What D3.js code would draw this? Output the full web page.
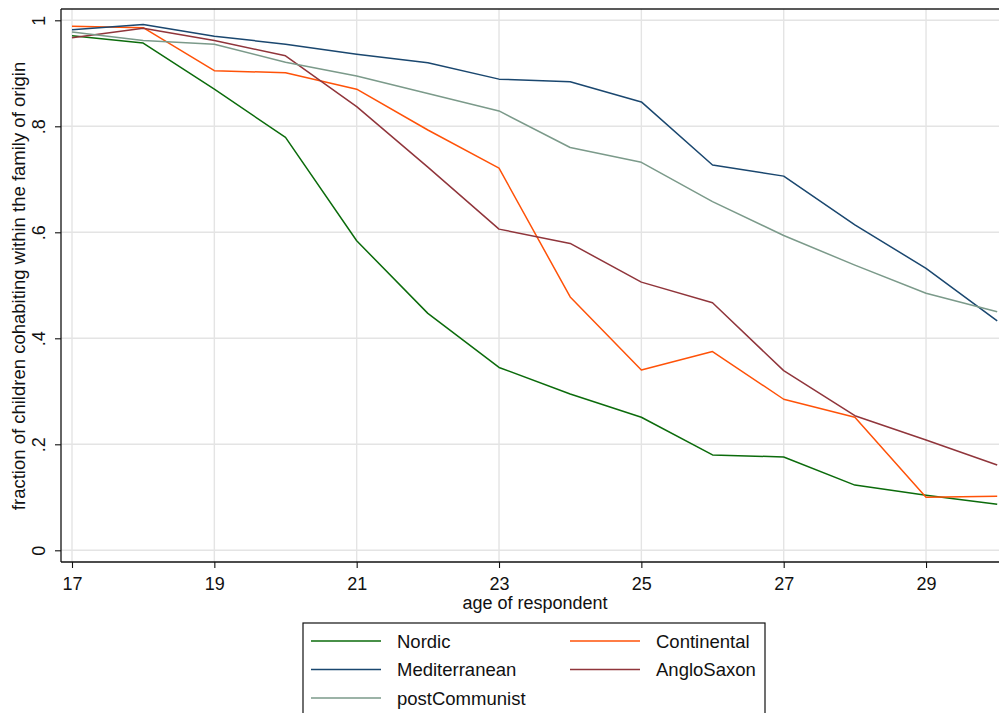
<!DOCTYPE html>
<html>
<head>
<meta charset="utf-8">
<script src="https://cdn.jsdelivr.net/npm/d3@7"></script>
<style>
  html, body { margin: 0; padding: 0; background: #fff; }
  svg { display: block; font-family: "Liberation Sans", Arial, sans-serif; }
</style>
</head>
<body>
<svg id="chart" width="999" height="713"></svg>
<script>
const ages = [17, 18, 19, 20, 21, 22, 23, 24, 25, 26, 27, 28, 29, 30];
const nordic        = [0.971, 0.957, 0.870, 0.779, 0.584, 0.447, 0.345, 0.295, 0.251, 0.180, 0.176, 0.123, 0.104, 0.087];
const continental   = [0.989, 0.986, 0.905, 0.901, 0.870, 0.793, 0.721, 0.478, 0.340, 0.375, 0.285, 0.251, 0.100, 0.102];
const mediterranean = [0.982, 0.992, 0.970, 0.955, 0.936, 0.920, 0.889, 0.884, 0.846, 0.727, 0.706, 0.614, 0.532, 0.433];
const angloSaxon    = [0.967, 0.985, 0.962, 0.933, 0.837, 0.723, 0.606, 0.579, 0.506, 0.467, 0.339, 0.254, 0.208, 0.161];
const postCommunist = [0.978, 0.962, 0.955, 0.921, 0.895, 0.862, 0.829, 0.760, 0.732, 0.658, 0.594, 0.538, 0.485, 0.450];

const xTicks = [17, 19, 21, 23, 25, 27, 29];
const yTicks = [0, 0.2, 0.4, 0.6, 0.8, 1];
const yTickLabels = ["0", ".2", ".4", ".6", ".8", "1"];

const seriesNames = ["Nordic", "Continental", "Mediterranean", "AngloSaxon", "postCommunist"];
const seriesValues = [nordic, continental, mediterranean, angloSaxon, postCommunist];
const seriesColors = ["#0b6b0b", "#ff5208", "#1a476f", "#90353b", "#7b9a8a"];

const svg = d3.select("#chart");

const plotLeft = 61, plotTop = 9, plotBottom = 562, plotRight = 1000;

const x = d3.scaleLinear().domain([17, 30]).range([72, 997.2]);
const y = d3.scaleLinear().domain([0, 1]).range([550.3, 20.3]);

// gridlines
const grid = svg.append("g");
grid.selectAll("line.h").data(yTicks).enter().append("line")
  .attr("x1", plotLeft).attr("x2", plotRight)
  .attr("y1", d => y(d)).attr("y2", d => y(d))
  .attr("stroke", "#e4e4e4").attr("stroke-width", 1.4);
grid.selectAll("line.v").data(xTicks).enter().append("line")
  .attr("y1", plotTop).attr("y2", plotBottom)
  .attr("x1", d => x(d)).attr("x2", d => x(d))
  .attr("stroke", "#e4e4e4").attr("stroke-width", 1.4);

// lines
const line = d3.line().x((d, i) => x(ages[i])).y(d => y(d));
seriesValues.forEach((vals, k) => {
  svg.append("path").datum(vals)
    .attr("d", line)
    .attr("fill", "none")
    .attr("stroke", seriesColors[k])
    .attr("stroke-width", 1.5)
    .attr("stroke-linejoin", "round");
});

// frame (top + left + bottom)
svg.append("line").attr("x1", plotLeft).attr("x2", plotRight).attr("y1", plotTop).attr("y2", plotTop)
  .attr("stroke", "#222").attr("stroke-width", 1.3);
svg.append("line").attr("x1", plotLeft).attr("x2", plotLeft).attr("y1", plotTop).attr("y2", plotBottom)
  .attr("stroke", "#111").attr("stroke-width", 1.3);
svg.append("line").attr("x1", plotLeft).attr("x2", plotRight).attr("y1", plotBottom).attr("y2", plotBottom)
  .attr("stroke", "#111").attr("stroke-width", 1.3);

// x axis
const xAxis = svg.append("g").attr("transform", `translate(0,${plotBottom})`)
  .call(d3.axisBottom(x).tickValues(xTicks).tickSize(6).tickPadding(9).tickFormat(d3.format("d")));
xAxis.select(".domain").remove();
xAxis.selectAll(".tick line").attr("stroke", "#111").attr("stroke-width", 1.1);
xAxis.selectAll(".tick text").attr("font-size", 18).attr("fill", "#111")
  .attr("font-family", "Liberation Sans, Arial, sans-serif");

// y axis
const yAxis = svg.append("g").attr("transform", `translate(${plotLeft},0)`)
  .call(d3.axisLeft(y).tickValues(yTicks).tickSize(6).tickFormat((d, i) => yTickLabels[i]));
yAxis.select(".domain").remove();
yAxis.selectAll(".tick line").attr("stroke", "#111").attr("stroke-width", 1.1);
yAxis.selectAll(".tick text")
  .attr("font-size", 18).attr("fill", "#111")
  .attr("font-family", "Liberation Sans, Arial, sans-serif")
  .attr("x", null).attr("dy", null)
  .attr("text-anchor", "middle")
  .attr("transform", "translate(-16,0) rotate(-90)");

// axis titles
svg.append("text").attr("x", 535).attr("y", 609)
  .attr("text-anchor", "middle").attr("font-size", 18).attr("fill", "#111")
  .text("age of respondent");
svg.append("text")
  .attr("transform", "translate(25,286) rotate(-90)")
  .attr("text-anchor", "middle").attr("font-size", 18.5).attr("fill", "#111")
  .text("fraction of children cohabiting within the family of origin");

// legend
const leg = svg.append("g");
leg.append("rect").attr("x", 303).attr("y", 623).attr("width", 462).attr("height", 120)
  .attr("fill", "#fff").attr("stroke", "#111").attr("stroke-width", 1.2);
const legendOrder = [0, 1, 2, 3, 4];
const rowY = [641, 669.5, 698];
const colLineX = [311, 570];
const colTextX = [397, 656];
legendOrder.forEach((k, j) => {
  const col = j % 2, row = Math.floor(j / 2);
  leg.append("line")
    .attr("x1", colLineX[col]).attr("x2", colLineX[col] + 70)
    .attr("y1", rowY[row]).attr("y2", rowY[row])
    .attr("stroke", seriesColors[k]).attr("stroke-width", 1.5);
  leg.append("text")
    .attr("x", colTextX[col]).attr("y", rowY[row] + 6.5)
    .attr("font-size", 18.5).attr("fill", "#111")
    .text(seriesNames[k]);
});
</script>
</body>
</html>
